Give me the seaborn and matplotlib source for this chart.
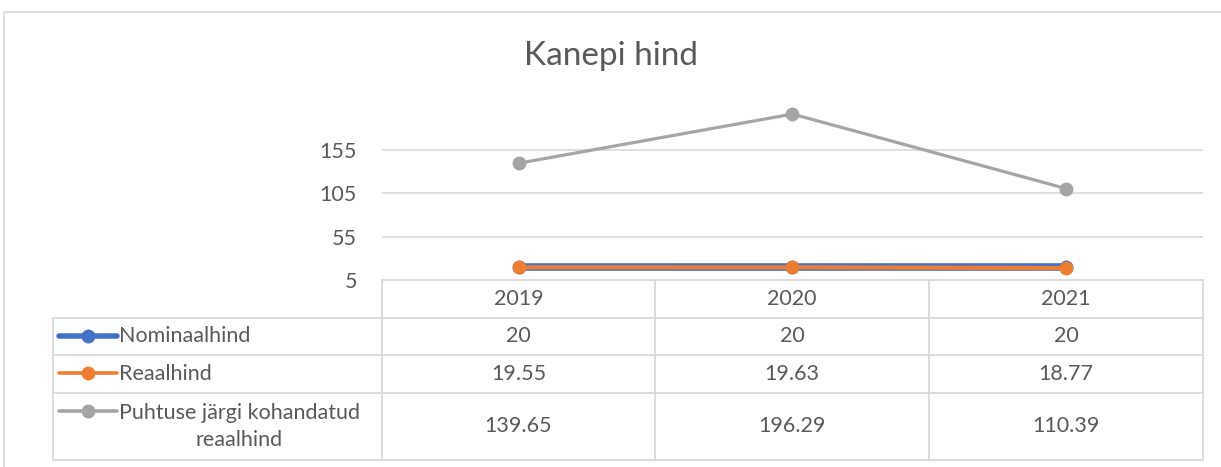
import matplotlib.pyplot as plt
import numpy as np
import pandas as pd
import seaborn as sns
from matplotlib.lines import Line2D
from matplotlib.patches import Rectangle

# ── Data ─────────────────────────────────────────────────────────────
years = ["2019", "2020", "2021"]
series_names = ["Nominaalhind", "Reaalhind", "Puhtuse järgi kohandatud\nreaalhind"]
nominaal = [20, 20, 20]
reaal = [19.55, 19.63, 18.77]
puhtus = [139.65, 196.29, 110.39]
table_labels = ["20", "20", "20"], ["19.55", "19.63", "18.77"], ["139.65", "196.29", "110.39"]
y_ticks = [5, 55, 105, 155]

colors = ["#4472C4", "#ED7D31", "#A5A5A5"]
line_widths = [5.5, 3.0, 2.3]
text_color = "#595959"
grid_color = "#D9D9D9"
fs = 15.5

sns.set_theme(style="white")
plt.rcParams["font.family"] = ["Lato", "DejaVu Sans"]

df = pd.DataFrame({
    "x": np.tile(np.arange(len(years)), 3),
    "value": nominaal + reaal + puhtus,
    "series": np.repeat(series_names, len(years)),
})

W, H = 1221, 467
fig = plt.figure(figsize=(W / 100, H / 100), dpi=100)

# background axes in pixel coordinates for frame + data table
bg = fig.add_axes([0, 0, 1, 1], zorder=0)
bg.set_xlim(0, W)
bg.set_ylim(H, 0)
bg.axis("off")
bg.add_patch(Rectangle((4, 12), W + 10, H, fill=False, ec=grid_color, lw=1.2))

# ── Plot area ────────────────────────────────────────────────────────
x0, x1, y_top, y_bot = 382, 1203, 106.5, 280
ax = fig.add_axes([x0 / W, 1 - y_bot / H, (x1 - x0) / W, (y_bot - y_top) / H], zorder=2)
ax.patch.set_alpha(0)
for name, c, lw in zip(series_names, colors, line_widths):
    sns.lineplot(data=df[df["series"] == name], x="x", y="value", ax=ax,
                 color=c, lw=lw, marker="o", markersize=10,
                 markeredgewidth=0, legend=False)
ax.set_xlim(-0.5, len(years) - 0.5)
ax.set_ylim(5, 205)
ax.set_yticks(y_ticks)
ax.set_yticklabels([str(t) for t in y_ticks], fontsize=fs, color=text_color)
ax.set_xticks([])
ax.set_xlabel("")
ax.set_ylabel("")
ax.tick_params(axis="y", length=0, pad=18)
for s in ax.spines.values():
    s.set_visible(False)
for t in y_ticks[1:]:
    ax.axhline(t, color=grid_color, lw=1.2, zorder=0)

fig.text(0.5, 1 - 56 / H, "Kanepi hind", ha="center", va="center",
         fontsize=24, color=text_color)

# ── Data table ───────────────────────────────────────────────────────
tl = 53
col_edges = [382, 655, 929, 1203]
row_edges = [280, 318, 355, 393, 460]
lc = dict(color=grid_color, lw=1.3)
bg.plot([col_edges[0], col_edges[-1]], [row_edges[0]] * 2, **lc)
for y in row_edges[1:]:
    bg.plot([tl, col_edges[-1]], [y, y], **lc)
for x in col_edges:
    bg.plot([x, x], [row_edges[0], row_edges[-1]], **lc)
bg.plot([tl, tl], [row_edges[1], row_edges[-1]], **lc)

centers = [(a + b) / 2 for a, b in zip(col_edges[:-1], col_edges[1:])]
for cx, yr in zip(centers, years):
    bg.text(cx, (row_edges[0] + row_edges[1]) / 2, yr, ha="center", va="center",
            fontsize=fs, color=text_color)

key_lw = [4.0, 2.6, 2.6]
for i, (name, c, vals) in enumerate(zip(series_names, colors, table_labels)):
    cy = (row_edges[i + 1] + row_edges[i + 2]) / 2
    for cx, v in zip(centers, vals):
        bg.text(cx, cy, v, ha="center", va="center", fontsize=fs, color=text_color)
    ky = row_edges[i + 1] + 18
    bg.add_line(Line2D([59, 117], [ky, ky], color=c, lw=key_lw[i],
                       solid_capstyle="round"))
    bg.add_line(Line2D([88], [ky], color=c, marker="o", markersize=10,
                       markeredgewidth=0))
    if "\n" in name:
        bg.text(119, cy, name, ha="left", va="center", fontsize=fs,
                color=text_color, multialignment="center", linespacing=1.4)
    else:
        bg.text(119, cy, name, ha="left", va="center", fontsize=fs, color=text_color)

fig.savefig("out.png", dpi=100)
